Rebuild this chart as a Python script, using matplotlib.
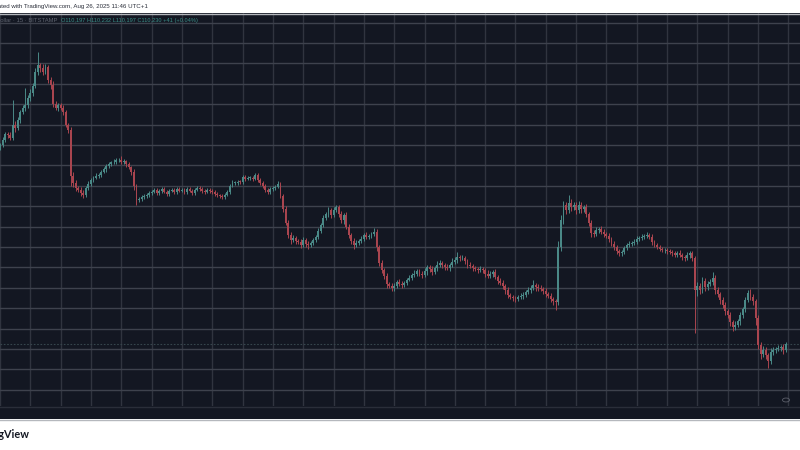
import matplotlib
matplotlib.use("Agg")
import matplotlib.pyplot as plt
from matplotlib.lines import Line2D
from matplotlib.patches import Rectangle, Circle

# ---------------- data (hourly candles, BTC/USD, Aug 13 12:00 -> Aug 26 11:00) ----------------
first_open = 119900
closes = [
    120000, 120250, 120560, 120500, 120350, 121000, 120835, 121230, 121620, 121800, 121960, 122300,
    122550, 122900, 123580, 123900, 123775, 123580, 123800, 123200, 122940, 122000, 121815, 121960,
    121815, 121620, 121000, 120740, 118500, 118140, 117900, 117800, 117650, 117550, 117900, 118100,
    118290, 118400, 118500, 118550, 118700, 118800, 118950, 119050, 119150, 119170, 119250, 119270,
    119170, 119200, 119050, 118900, 118700, 118000, 117300, 117350, 117450, 117500, 117550, 117650,
    117700, 117800, 117650, 117750, 117850, 117700, 117600, 117750, 117800, 117700, 117850, 117750,
    117800, 117700, 117850, 117750, 117650, 117800, 117900, 117850, 117750, 117700, 117800, 117750,
    117700, 117600, 117550, 117500, 117450, 117550, 117700, 118000, 118140, 118150, 118200, 118190,
    118430, 118350, 118385, 118400, 118350, 118550, 118300, 118150, 118000, 117800, 117700, 117850,
    117900, 117950, 118100, 117500, 116850, 116200, 115600, 115350, 115450, 115300, 115250, 115100,
    115350, 115150, 115100, 115200, 115350, 115500, 115800, 116100, 116420, 116600, 116800, 116570,
    116820, 116950, 116600, 116300, 116550, 116000, 115600, 115300, 115100, 115200, 115300, 115400,
    115600, 115500, 115550, 115650, 115750, 115000, 114200, 113850, 113600, 113200, 113100, 113000,
    113100, 113300, 113200, 113150, 113250, 113400, 113500, 113650, 113700, 113800, 113700, 113650,
    113800, 114000, 113900, 113780, 113950, 114120, 114200, 114100, 114000, 113950, 114100, 114270,
    114350, 114500, 114450, 114450, 114300, 114100, 114050, 113950, 113900, 113880, 113900, 113850,
    113700, 113600, 113700, 113780, 113550, 113350, 113250, 113100, 112900, 112650, 112550, 112500,
    112450, 112550, 112600, 112650, 112800, 112900, 113000, 113150, 113050, 113000, 112950, 112850,
    112700, 112600, 112450, 112350, 112300, 115000, 116300, 117050, 116800, 117150, 116950, 117050,
    116800, 117050, 116850, 116950, 116600, 116200, 115700, 115650, 115850, 115900, 115750, 115650,
    115550, 115400, 115150, 115000, 114800, 114700, 114750, 114950, 115100, 115150, 115200, 115250,
    115400, 115450, 115500, 115550, 115600, 115500, 115250, 115100, 115000, 114900, 114850, 114870,
    114800, 114750, 114700, 114620, 114700, 114600, 114500, 114450, 114600, 114700, 114450, 112900,
    113100, 112900, 113350, 113050, 113200, 113300, 113500, 112900, 112700, 112400, 112160, 111850,
    111680, 111320, 111100, 111200, 111350, 111650, 111950, 112400, 112750, 112550, 112350, 111500,
    110200, 109750, 109950, 109700, 109400, 109850, 109950, 110000, 110050, 110100, 109950, 110230,
]
upper_wicks = [
    120, 150, 100, 80, 150, 1200, 200, 120, 100, 150, 835, 150,
    200, 150, 180, 660, 120, 200, 150, 100, 150, 200, 150, 120,
    100, 150, 120, 100, 150, 200, 150, 100, 120, 150, 100, 120,
    100, 80, 120, 100, 90, 110, 100, 120, 80, 150, 130, 100,
    200, 100, 80, 100, 90, 120, 100, 80, 90, 100, 80, 90,
    80, 90, 70, 100, 80, 90, 70, 80, 100, 70, 90, 80,
    90, 70, 80, 100, 70, 90, 80, 70, 90, 80, 70, 90,
    80, 70, 90, 70, 80, 100, 90, 100, 120, 90, 100, 80,
    120, 90, 100, 80, 90, 100, 80, 90, 70, 80, 90, 100,
    80, 90, 150, 100, 120, 150, 100, 120, 150, 100, 80, 120,
    150, 100, 120, 100, 90, 100, 120, 100, 150, 120, 150, 120,
    150, 110, 120, 150, 100, 150, 120, 100, 120, 150, 100, 120,
    100, 120, 100, 90, 190, 150, 120, 150, 100, 120, 100, 150,
    120, 100, 150, 120, 100, 90, 120, 100, 150, 100, 120, 100,
    150, 120, 100, 150, 120, 200, 150, 120, 100, 150, 120, 200,
    150, 250, 120, 150, 100, 120, 150, 100, 120, 100, 150, 120,
    100, 150, 120, 100, 120, 100, 150, 120, 100, 120, 100, 120,
    120, 100, 150, 120, 100, 150, 120, 250, 100, 150, 120, 100,
    120, 100, 150, 120, 100, 300, 250, 200, 150, 410, 200, 150,
    150, 200, 150, 120, 150, 100, 120, 150, 120, 100, 150, 120,
    100, 120, 100, 150, 100, 120, 100, 120, 100, 120, 100, 150,
    120, 100, 120, 100, 150, 100, 120, 100, 120, 100, 120, 100,
    100, 120, 100, 120, 100, 150, 120, 100, 150, 100, 120, 100,
    200, 150, 200, 150, 120, 150, 280, 150, 120, 100, 150, 120,
    100, 120, 100, 150, 120, 150, 120, 150, 150, 200, 150, 100,
    150, 120, 200, 150, 120, 200, 150, 120, 150, 120, 150, 100,
]
lower_wicks = [
    150, 100, 120, 150, 100, 120, 200, 100, 150, 100, 120, 150,
    120, 150, 100, 150, 200, 150, 120, 150, 200, 150, 120, 150,
    100, 150, 120, 150, 500, 200, 150, 120, 150, 150, 120, 100,
    120, 100, 80, 100, 120, 90, 100, 80, 100, 90, 80, 100,
    100, 80, 120, 100, 150, 200, 240, 100, 80, 90, 100, 80,
    90, 70, 100, 80, 90, 70, 100, 80, 70, 90, 80, 70,
    70, 90, 80, 70, 100, 80, 70, 90, 80, 100, 70, 80,
    90, 100, 80, 90, 100, 80, 70, 90, 80, 100, 90, 80,
    90, 100, 80, 90, 100, 80, 120, 100, 90, 120, 100, 80,
    100, 90, 80, 120, 150, 120, 150, 200, 100, 150, 120, 150,
    120, 150, 200, 100, 120, 90, 100, 120, 100, 90, 120, 150,
    100, 120, 150, 120, 150, 120, 150, 150, 200, 120, 100, 90,
    120, 100, 120, 90, 100, 200, 150, 120, 150, 200, 120, 150,
    150, 120, 100, 150, 120, 100, 90, 100, 120, 100, 120, 150,
    120, 150, 120, 150, 100, 120, 100, 150, 120, 100, 120, 100,
    100, 120, 150, 100, 120, 150, 100, 120, 100, 150, 120, 100,
    150, 120, 100, 150, 120, 150, 120, 150, 200, 150, 120, 150,
    150, 120, 100, 150, 120, 100, 150, 120, 200, 150, 120, 150,
    150, 120, 150, 200, 400, 150, 200, 150, 200, 150, 200, 150,
    200, 150, 200, 150, 120, 150, 200, 150, 120, 150, 120, 150,
    120, 150, 120, 150, 120, 150, 120, 100, 120, 100, 120, 100,
    100, 120, 100, 120, 100, 120, 150, 120, 100, 120, 100, 120,
    120, 100, 120, 100, 120, 100, 120, 150, 100, 120, 150, 2100,
    300, 200, 150, 200, 150, 120, 150, 200, 150, 200, 150, 200,
    150, 200, 200, 150, 120, 150, 120, 150, 120, 150, 200, 300,
    200, 250, 150, 200, 350, 150, 120, 150, 120, 150, 200, 100,
]
tick_labels = ["12:00", "14", "12:00", "15", "12:00", "16", "12:00", "17", "12:00",
               "18", "12:00", "19", "12:00", "20", "12:00", "21", "12:00", "22", "12:00",
               "23", "12:00", "24", "12:00", "25", "12:00", "26", "12:00"]
price_levels = [108000, 109000, 110000, 111000, 112000, 113000, 114000, 115000, 116000,
                117000, 118000, 119000, 120000, 121000, 122000, 123000, 124000, 125000, 126000]
last_price = 110230
header_text = "Created with TradingView.com, Aug 26, 2025 11:46 UTC+1"
symbol_text = "Bitcoin / U.S. Dollar · 15 · BITSTAMP"
ohlc_text = "O110,197 H110,232 L110,197 C110,230 +41 (+0.04%)"

# ---------------- derived candle fields ----------------
opens = [first_open] + closes[:-1]
highs = [max(o, c) + u for o, c, u in zip(opens, closes, upper_wicks)]
lows = [min(o, c) - d for o, c, d in zip(opens, closes, lower_wicks)]
t = [(i - 12) / 24.0 for i in range(len(closes))]   # days since Aug 14 00:00

BG = "#131722"
UP = "#4a8987"
DOWN = "#a9454f"

W, H = 800, 450
fig = plt.figure(figsize=(8, 4.5), dpi=100, facecolor="white")
plt.rcParams["font.family"] = ["Liberation Sans", "DejaVu Sans"]

ax_top_px, ax_bot_px = 13, 406
ax = fig.add_axes([0, 1 - ax_bot_px / H, 1, (ax_bot_px - ax_top_px) / H])
ax.set_facecolor(BG)

# x-axis strip
fig.patches.append(Rectangle((0, 1 - 419 / H), 1, (419 - 406) / H, transform=fig.transFigure,
                             facecolor=BG, edgecolor="none", zorder=0))
fig.add_artist(Line2D([0, 1], [1 - 13.5 / H] * 2, color="#b5b8bd", lw=1.0))
fig.add_artist(Line2D([0, 1], [1 - 419.5 / H] * 2, color="#b5b8bd", lw=1.0))
fig.add_artist(Line2D([0, 1], [1 - 406.5 / H] * 2, color="#2a2e39", lw=1.0))

px_per_day = 60.67
x_left = -30 / px_per_day
x_right = (W - 30) / px_per_day
ax.set_xlim(x_left, x_right)
y_top = 125000 + (43 - ax_top_px) / 20.4 * 1000
y_bot = 125000 - (ax_bot_px - 43) / 20.4 * 1000
ax.set_ylim(y_bot, y_top)

xt = [-0.5 + 0.5 * i for i in range(len(tick_labels))]
ax.set_xticks(xt)
ax.set_xticklabels(tick_labels)
ax.set_yticks(price_levels)
ax.tick_params(axis="x", length=0, pad=3.2, labelsize=3.4, colors="#7e818b")
ax.tick_params(axis="y", length=0, labelleft=False)
for s in ax.spines.values():
    s.set_visible(False)
for x in xt:
    ax.axvline(x, color="#30343f", lw=1.0, zorder=0)
for p in price_levels:
    ax.axhline(p, color="#3e424d", lw=1.0, zorder=0)

# last price dotted line
ax.axhline(last_price, color="#36454c", lw=0.8, ls=(0, (1.5, 1.5)), zorder=1)

# candles
cols = [UP if c >= o else DOWN for o, c in zip(opens, closes)]
ax.vlines(t, lows, highs, colors=cols, lw=0.7, zorder=2)
bw = 0.75 / 24
bottoms = [min(o, c) for o, c in zip(opens, closes)]
heights = [max(abs(c - o), 25) for o, c in zip(opens, closes)]
ax.bar(t, heights, bottom=bottoms, width=bw, color=cols, edgecolor="none", zorder=3)

# small realtime button at bottom-right
fig.add_artist(Circle((786 / W, 1 - 400 / H), 3.5 / W, transform=fig.transFigure,
                      facecolor="none", edgecolor="#5d606b", lw=0.6))

# header & legend texts
fig.text(148 / W, 1 - 6.5 / H, header_text, ha="right", va="center", fontsize=4.45, color="#2a2e39")
fig.text(57 / W, 1 - 20.5 / H, symbol_text, ha="right", va="center", fontsize=4.2, color="#5f6470")
fig.text(61 / W, 1 - 20.5 / H, ohlc_text, ha="left", va="center", fontsize=4.1, color="#3b8f88")
fig.text(30 / W, 1 - 435 / H, "TradingView", ha="right", va="center", fontsize=7.8,
         fontweight="bold", color="#131722", family=["Lato", "DejaVu Sans"])

fig.savefig("out.png", dpi=100, facecolor="white")
